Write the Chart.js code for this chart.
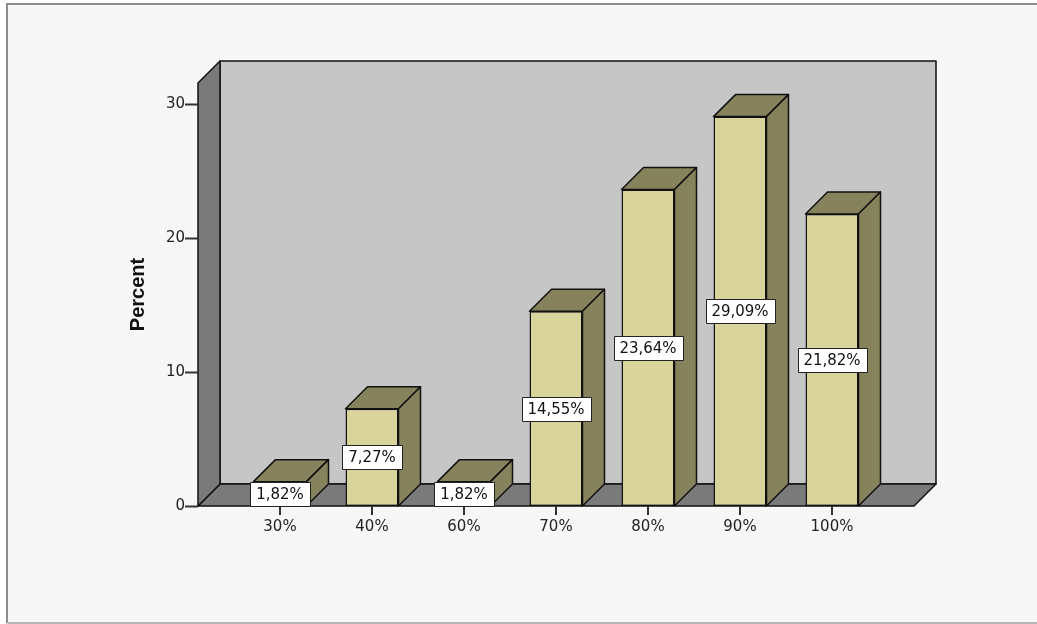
<!DOCTYPE html>
<html>
<head>
<meta charset="utf-8">
<script src="https://cdn.jsdelivr.net/npm/chart.js@4.4.0/dist/chart.umd.min.js"></script>
<style>
  html, body { margin: 0; padding: 0; background: #ffffff; }
  #wrap { width: 1037px; height: 624px; }
</style>
</head>
<body>
<div id="wrap"><canvas id="barChart"></canvas></div>
<script>
// score groups and share of respondents (%)
const categories = ['30%', '40%', '60%', '70%', '80%', '90%', '100%'];
const percentValues = [1.82, 7.27, 1.82, 14.55, 23.64, 29.09, 21.82];
const yTicks = [0, 10, 20, 30];

const DEPTH = 22;      // 3d offset of walls and bars
const SIDE = 36;       // floor overhang left/right of the bars
const FACE = '#d9d49c';
const SHADE = '#86825c';
const WALL = '#c6c6c6';
const FLOOR = '#7a7a7a';
const LABEL_FONT = '15px "DejaVu Sans"';

function poly(ctx, pts, fill) {
  ctx.beginPath();
  ctx.moveTo(pts[0][0], pts[0][1]);
  for (let i = 1; i < pts.length; i++) ctx.lineTo(pts[i][0], pts[i][1]);
  ctx.closePath();
  ctx.fillStyle = fill;
  ctx.fill();
  ctx.stroke();
}

const box3d = {
  id: 'box3d',
  beforeDraw(chart) {
    const ctx = chart.ctx;
    ctx.save();
    ctx.fillStyle = '#ffffff';
    ctx.fillRect(0, 0, chart.width, chart.height);
    ctx.fillStyle = '#f7f7f7';
    ctx.fillRect(7, 4, chart.width, 619);
    ctx.strokeStyle = '#8c8c8c';
    ctx.lineWidth = 2;
    ctx.beginPath();
    ctx.moveTo(7, 623);
    ctx.lineTo(7, 4);
    ctx.lineTo(chart.width, 4);
    ctx.stroke();
    ctx.strokeStyle = '#b5b5b5';
    ctx.beginPath();
    ctx.moveTo(7, 623);
    ctx.lineTo(chart.width, 623);
    ctx.stroke();
    ctx.restore();
  },
  beforeDatasetsDraw(chart) {
    const { ctx, chartArea: a, scales: { x, y } } = chart;
    const D = DEPTH;
    const x0 = a.left - SIDE, x1 = a.right + SIDE;
    const yb = y.getPixelForValue(0), yt = a.top;
    ctx.save();
    ctx.strokeStyle = '#111';
    ctx.lineWidth = 1.5;
    ctx.lineJoin = 'round';
    poly(ctx, [[x0 + D, yt - D], [x1 + D, yt - D], [x1 + D, yb - D], [x0 + D, yb - D]], WALL);
    poly(ctx, [[x0, yb], [x1, yb], [x1 + D, yb - D], [x0 + D, yb - D]], FLOOR);
    poly(ctx, [[x0, yb], [x0, yt], [x0 + D, yt - D], [x0 + D, yb - D]], FLOOR);

    // tick marks
    ctx.lineWidth = 2;
    ctx.strokeStyle = '#333';
    yTicks.forEach(v => {
      const py = Math.round(y.getPixelForValue(v)) + 0.5;
      ctx.beginPath();
      ctx.moveTo(x0 - 13, py);
      ctx.lineTo(x0, py);
      ctx.stroke();
    });
    categories.forEach((c, i) => {
      const px = Math.round(x.getPixelForValue(i));
      ctx.beginPath();
      ctx.moveTo(px, yb);
      ctx.lineTo(px, yb + 9);
      ctx.stroke();
    });
    ctx.restore();
  },
  afterDatasetsDraw(chart) {
    const ctx = chart.ctx;
    const D = DEPTH;
    const meta = chart.getDatasetMeta(0);
    ctx.save();
    ctx.strokeStyle = '#111';
    ctx.lineWidth = 1.5;
    ctx.lineJoin = 'round';
    meta.data.forEach(bar => {
      const { x, y, base, width } = bar.getProps(['x', 'y', 'base', 'width'], true);
      const l = x - width / 2, r = x + width / 2;
      poly(ctx, [[l, y], [r, y], [r + D, y - D], [l + D, y - D]], SHADE);
      poly(ctx, [[r, y], [r + D, y - D], [r + D, base - D], [r, base]], SHADE);
    });

    // value boxes in the middle of each bar
    ctx.font = LABEL_FONT;
    ctx.textAlign = 'center';
    ctx.textBaseline = 'middle';
    ctx.lineWidth = 1;
    meta.data.forEach((bar, i) => {
      const { x, y, base } = bar.getProps(['x', 'y', 'base'], true);
      const text = percentValues[i].toFixed(2).replace('.', ',') + '%';
      const w = Math.round(ctx.measureText(text).width) + 12;
      const h = 24;
      const cy = Math.round((y + base) / 2);
      const bx = Math.round(x - w / 2) + 0.5, by = cy - h / 2 + 0.5;
      ctx.fillStyle = '#ffffff';
      ctx.fillRect(bx, by, w, h);
      ctx.strokeStyle = '#222';
      ctx.strokeRect(bx, by, w, h);
      ctx.fillStyle = '#111';
      ctx.fillText(text, x, cy + 1);
    });
    ctx.restore();
  }
};

const ctx = document.getElementById('barChart').getContext('2d');
const chart = new Chart(ctx, {
  type: 'bar',
  data: {
    labels: categories,
    datasets: [{
      data: percentValues,
      backgroundColor: FACE,
      borderColor: '#111',
      borderWidth: 1.5,
      borderSkipped: false,
      barPercentage: 0.576,
      categoryPercentage: 1
    }]
  },
  options: {
    responsive: true,
    maintainAspectRatio: false,
    animation: false,
    layout: { padding: { top: 83, right: 159, left: 0, bottom: 0 } },
    plugins: {
      legend: { display: false },
      tooltip: { enabled: false }
    },
    scales: {
      x: {
        grid: { display: false, drawTicks: false },
        border: { display: false },
        ticks: {
          color: '#222',
          font: { family: 'DejaVu Sans', size: 15 },
          padding: 12,
          maxRotation: 0
        },
        afterFit(scale) { scale.height = 118; }
      },
      y: {
        min: 0,
        max: 31.6,
        grid: { display: false, drawTicks: false },
        border: { display: false },
        ticks: {
          color: '#222',
          font: { family: 'DejaVu Sans', size: 15 },
          padding: 49
        },
        afterBuildTicks(scale) { scale.ticks = yTicks.map(v => ({ value: v })); },
        title: {
          display: true,
          text: 'Percent',
          color: '#111',
          font: { family: 'Liberation Sans', size: 20, weight: 'bold' },
          padding: { top: 126, bottom: 0 }
        },
        afterFit(scale) { scale.width = 234; }
      }
    }
  },
  plugins: [box3d]
});
</script>
</body>
</html>
